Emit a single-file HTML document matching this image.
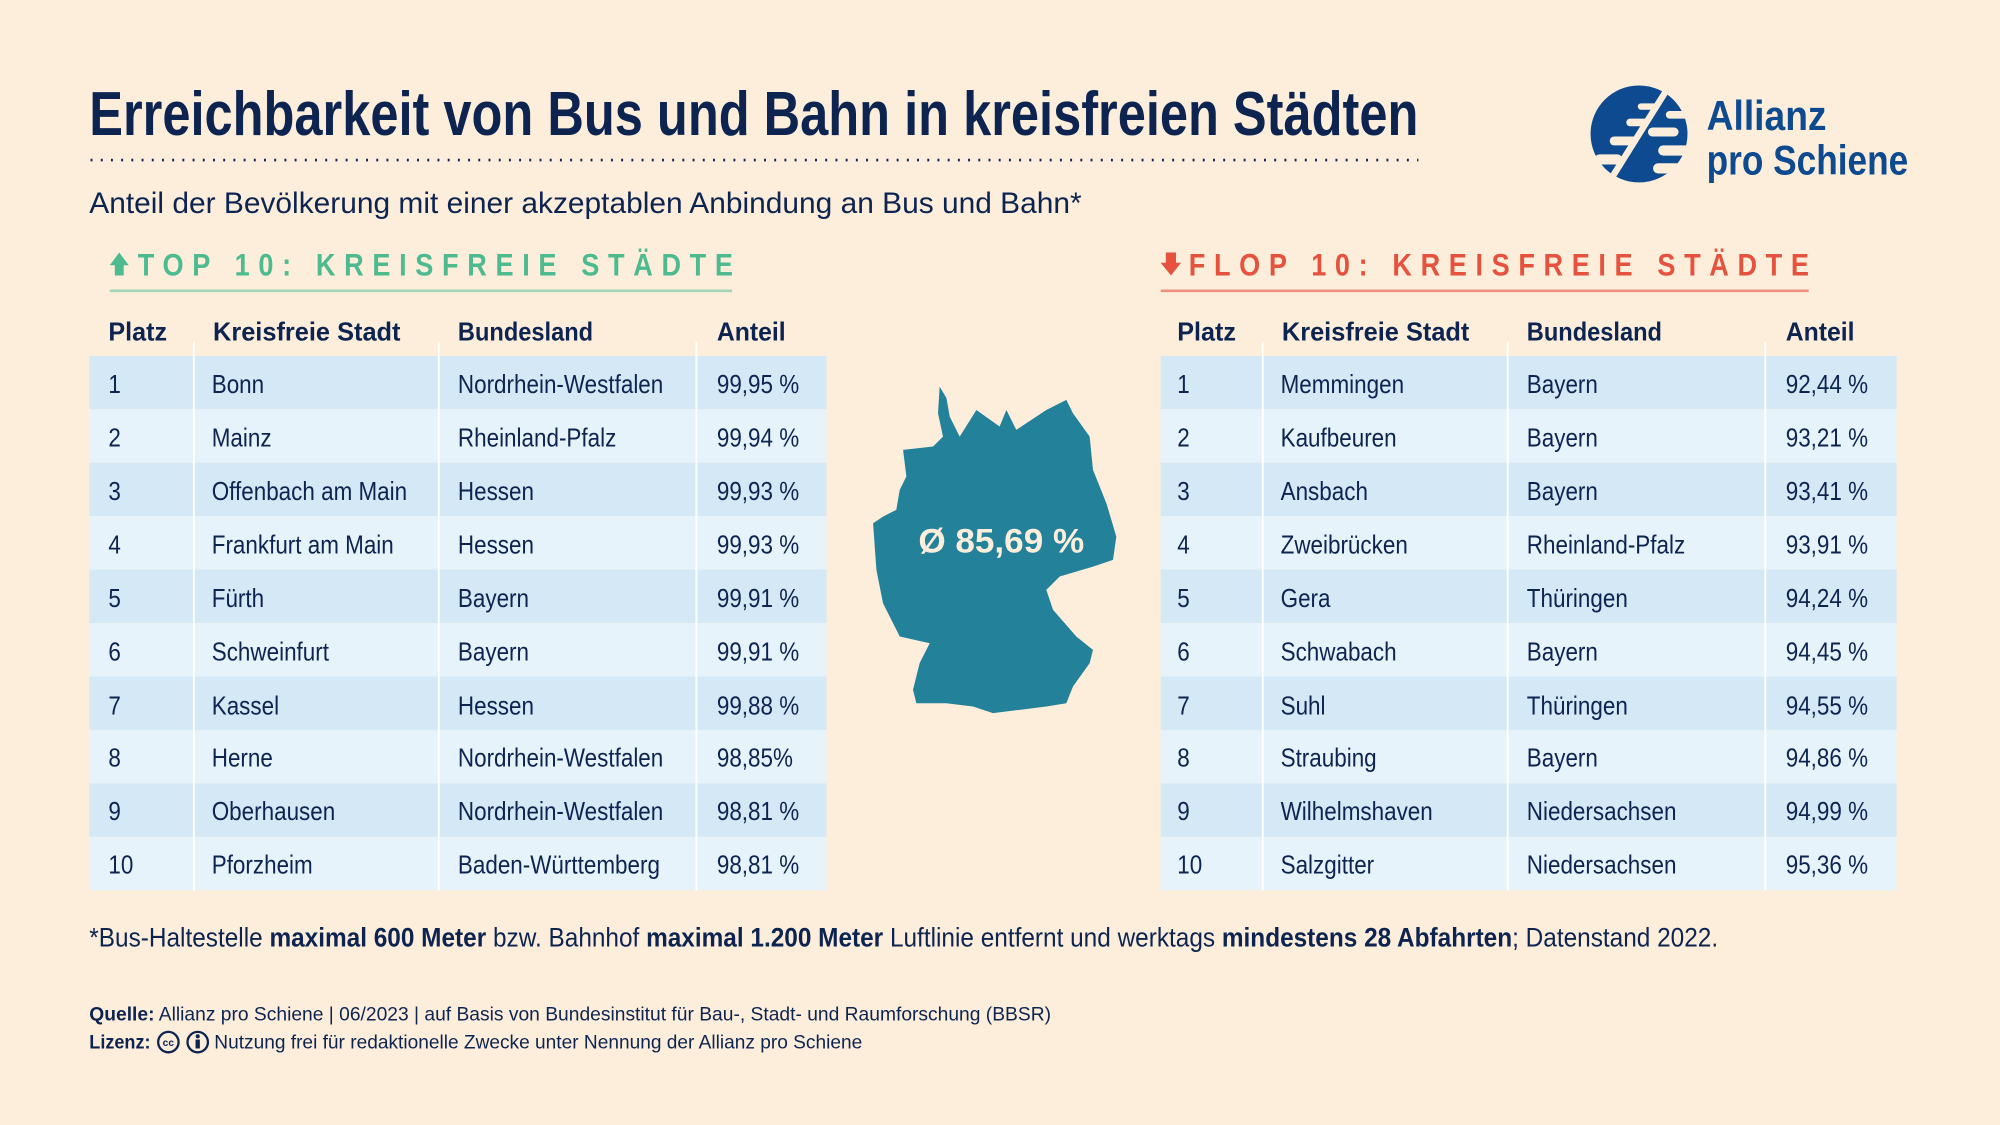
<!DOCTYPE html>
<html><head><meta charset="utf-8"><style>
html,body{margin:0;padding:0;background:#fdeedb;}
svg{display:block}
text{font-family:"Liberation Sans",Arial,sans-serif;}
</style></head><body>
<svg width="2000" height="1125" viewBox="0 0 1568 882" xmlns="http://www.w3.org/2000/svg">
<rect width="1568" height="882" fill="#fdeedb"/>
<text x="70" y="106" font-size="49" font-weight="bold" fill="#0d2451" textLength="1042" lengthAdjust="spacingAndGlyphs">Erreichbarkeit von Bus und Bahn in kreisfreien Städten</text>
<line x1="71" y1="125.5" x2="1112" y2="125.5" stroke="#0d2451" stroke-width="2" stroke-dasharray="1.5 6.5"/>
<text x="70" y="167" font-size="23" fill="#0d2451" textLength="778" lengthAdjust="spacingAndGlyphs">Anteil der Bevölkerung mit einer akzeptablen Anbindung an Bus und Bahn*</text>

<!-- logo -->
<circle cx="1285" cy="105" r="38" fill="#0d4a8f"/>
<g fill="#fdeedb">
<rect x="1306" y="87" width="20" height="6" rx="3"/>
<rect x="1292" y="100" width="24" height="7" rx="3.5"/>
<rect x="1300" y="114" width="30" height="8" rx="4"/>
<rect x="1296" y="128" width="28" height="8" rx="4"/>
<rect x="1284" y="81" width="16" height="5" rx="2.5"/>
<rect x="1275" y="93" width="18" height="6" rx="3"/>
<rect x="1262" y="107" width="22" height="7" rx="3.5"/>
<rect x="1250" y="121" width="22" height="8" rx="4"/>
</g>
<line x1="1307" y1="70" x2="1262" y2="142" stroke="#fdeedb" stroke-width="5"/>
<text x="1338" y="102" font-size="33" font-weight="bold" fill="#0d4a8f" textLength="94" lengthAdjust="spacingAndGlyphs">Allianz</text>
<text x="1338" y="137" font-size="33" font-weight="bold" fill="#0d4a8f" textLength="158" lengthAdjust="spacingAndGlyphs">pro Schiene</text>

<!-- headings -->
<path d="M93.5,198 L101,208 L97,208 L97,216 L90,216 L90,208 L86,208 Z" fill="#4dbb8f"/>
<g transform="translate(108,216) scale(0.85,1)">
<text x="0" y="0" font-size="25" font-weight="bold" fill="#4dbb8f" textLength="549" lengthAdjust="spacing">TOP 10: KREISFREIE STÄDTE</text>
</g>
<line x1="86" y1="228" x2="574" y2="228" stroke="#a3d6b9" stroke-width="2"/>
<path d="M918,216 L926,206 L922,206 L922,198 L914,198 L914,206 L910,206 Z" fill="#e5533f"/>
<g transform="translate(932,216) scale(0.85,1)">
<text x="0" y="0" font-size="25" font-weight="bold" fill="#e5533f" textLength="572" lengthAdjust="spacing">FLOP 10: KREISFREIE STÄDTE</text>
</g>
<line x1="910" y1="228" x2="1418" y2="228" stroke="#f0917f" stroke-width="2"/>

<!-- left table -->
<g>
<rect x="70" y="279" width="578" height="41.9" fill="#d5e8f6"/>
<rect x="70" y="320.9" width="578" height="41.9" fill="#e6f3fb"/>
<rect x="70" y="362.8" width="578" height="41.9" fill="#d5e8f6"/>
<rect x="70" y="404.7" width="578" height="41.9" fill="#e6f3fb"/>
<rect x="70" y="446.6" width="578" height="41.9" fill="#d5e8f6"/>
<rect x="70" y="488.5" width="578" height="41.9" fill="#e6f3fb"/>
<rect x="70" y="530.4" width="578" height="41.9" fill="#d5e8f6"/>
<rect x="70" y="572.3" width="578" height="41.9" fill="#e6f3fb"/>
<rect x="70" y="614.2" width="578" height="41.9" fill="#d5e8f6"/>
<rect x="70" y="656.1" width="578" height="41.9" fill="#e6f3fb"/>
</g>
<g stroke="#ffffff" stroke-width="1.5"><line x1="152" y1="268" x2="152" y2="698"/><line x1="344" y1="268" x2="344" y2="698"/><line x1="546" y1="268" x2="546" y2="698"/></g>
<g>
<rect x="910" y="279" width="577" height="41.9" fill="#d5e8f6"/>
<rect x="910" y="320.9" width="577" height="41.9" fill="#e6f3fb"/>
<rect x="910" y="362.8" width="577" height="41.9" fill="#d5e8f6"/>
<rect x="910" y="404.7" width="577" height="41.9" fill="#e6f3fb"/>
<rect x="910" y="446.6" width="577" height="41.9" fill="#d5e8f6"/>
<rect x="910" y="488.5" width="577" height="41.9" fill="#e6f3fb"/>
<rect x="910" y="530.4" width="577" height="41.9" fill="#d5e8f6"/>
<rect x="910" y="572.3" width="577" height="41.9" fill="#e6f3fb"/>
<rect x="910" y="614.2" width="577" height="41.9" fill="#d5e8f6"/>
<rect x="910" y="656.1" width="577" height="41.9" fill="#e6f3fb"/>
</g>
<g stroke="#ffffff" stroke-width="1.5"><line x1="990" y1="268" x2="990" y2="698"/><line x1="1182" y1="268" x2="1182" y2="698"/><line x1="1384" y1="268" x2="1384" y2="698"/></g>

<!-- headers -->
<g font-size="20" font-weight="bold" fill="#0d2451">
<text x="85" y="267" textLength="46" lengthAdjust="spacingAndGlyphs">Platz</text>
<text x="167" y="267" textLength="147" lengthAdjust="spacingAndGlyphs">Kreisfreie Stadt</text>
<text x="359" y="267" textLength="106" lengthAdjust="spacingAndGlyphs">Bundesland</text>
<text x="562" y="267" textLength="54" lengthAdjust="spacingAndGlyphs">Anteil</text>
<text x="923" y="267" textLength="46" lengthAdjust="spacingAndGlyphs">Platz</text>
<text x="1005" y="267" textLength="147" lengthAdjust="spacingAndGlyphs">Kreisfreie Stadt</text>
<text x="1197" y="267" textLength="106" lengthAdjust="spacingAndGlyphs">Bundesland</text>
<text x="1400" y="267" textLength="54" lengthAdjust="spacingAndGlyphs">Anteil</text>
</g>

<g font-size="20" fill="#0d2451">
<g transform="translate(85,0) scale(0.88,1)">
<text y="308">1</text><text y="350">2</text><text y="392">3</text><text y="434">4</text><text y="476">5</text><text y="518">6</text><text y="560">7</text><text y="601">8</text><text y="643">9</text><text y="685">10</text>
</g>
<g transform="translate(166,0) scale(0.88,1)">
<text y="308">Bonn</text><text y="350">Mainz</text><text y="392">Offenbach am Main</text><text y="434">Frankfurt am Main</text><text y="476">Fürth</text><text y="518">Schweinfurt</text><text y="560">Kassel</text><text y="601">Herne</text><text y="643">Oberhausen</text><text y="685">Pforzheim</text>
</g>
<g transform="translate(359,0) scale(0.88,1)">
<text y="308">Nordrhein-Westfalen</text><text y="350">Rheinland-Pfalz</text><text y="392">Hessen</text><text y="434">Hessen</text><text y="476">Bayern</text><text y="518">Bayern</text><text y="560">Hessen</text><text y="601">Nordrhein-Westfalen</text><text y="643">Nordrhein-Westfalen</text><text y="685">Baden-Württemberg</text>
</g>
<g transform="translate(562,0) scale(0.88,1)">
<text y="308">99,95 %</text><text y="350">99,94 %</text><text y="392">99,93 %</text><text y="434">99,93 %</text><text y="476">99,91 %</text><text y="518">99,91 %</text><text y="560">99,88 %</text><text y="601">98,85%</text><text y="643">98,81 %</text><text y="685">98,81 %</text>
</g>
<g transform="translate(923,0) scale(0.88,1)">
<text y="308">1</text><text y="350">2</text><text y="392">3</text><text y="434">4</text><text y="476">5</text><text y="518">6</text><text y="560">7</text><text y="601">8</text><text y="643">9</text><text y="685">10</text>
</g>
<g transform="translate(1004,0) scale(0.88,1)">
<text y="308">Memmingen</text><text y="350">Kaufbeuren</text><text y="392">Ansbach</text><text y="434">Zweibrücken</text><text y="476">Gera</text><text y="518">Schwabach</text><text y="560">Suhl</text><text y="601">Straubing</text><text y="643">Wilhelmshaven</text><text y="685">Salzgitter</text>
</g>
<g transform="translate(1197,0) scale(0.88,1)">
<text y="308">Bayern</text><text y="350">Bayern</text><text y="392">Bayern</text><text y="434">Rheinland-Pfalz</text><text y="476">Thüringen</text><text y="518">Bayern</text><text y="560">Thüringen</text><text y="601">Bayern</text><text y="643">Niedersachsen</text><text y="685">Niedersachsen</text>
</g>
<g transform="translate(1400,0) scale(0.88,1)">
<text y="308">92,44 %</text><text y="350">93,21 %</text><text y="392">93,41 %</text><text y="434">93,91 %</text><text y="476">94,24 %</text><text y="518">94,45 %</text><text y="560">94,55 %</text><text y="601">94,86 %</text><text y="643">94,99 %</text><text y="685">95,36 %</text>
</g>
</g>

<!-- map -->
<path fill="#23819a" d="M736.7,303.1 L742,312 L744.6,326.6 L752.4,342.3 L765.5,321.4 L783.7,334.4 L789,321.4 L796.8,337 L820.3,321.4 L836,313.5 L841.2,324 L854.3,342.3 L856.9,368.4 L867.4,394.5 L875.2,420.7 L872.6,438.9 L856.9,444.2 L830.8,452 L820.3,462.5 L825.6,478.1 L843.8,499 L856.9,509.5 L854.3,519.9 L841.2,538.2 L836,551.3 L820.3,553.9 L799.4,556.5 L778.5,559.1 L762.8,553.9 L741.9,551.3 L718.4,551.3 L715.8,540.8 L721,519.9 L728.9,504.3 L705.4,499 L692.3,472.9 L687.1,446.8 L684.5,410.2 L692.3,405 L702.7,399.7 L705.4,384.1 L710.6,373.6 L708,352.7 L731.5,350.1 L739.3,342.3 L735.4,324 Z"/>
<text x="785" y="433" font-size="27" font-weight="bold" fill="#fdeedb" text-anchor="middle" textLength="130" lengthAdjust="spacingAndGlyphs">Ø 85,69 %</text>

<!-- footnote -->
<text x="70" y="742" font-size="21" fill="#0d2451" textLength="1277" lengthAdjust="spacingAndGlyphs">*Bus-Haltestelle <tspan font-weight="bold">maximal 600 Meter</tspan> bzw. Bahnhof <tspan font-weight="bold">maximal 1.200 Meter</tspan> Luftlinie entfernt und werktags <tspan font-weight="bold">mindestens 28 Abfahrten</tspan>; Datenstand 2022.</text>

<text x="70" y="800" font-size="15.5" fill="#0d2451" textLength="754" lengthAdjust="spacingAndGlyphs"><tspan font-weight="bold">Quelle:</tspan> Allianz pro Schiene | 06/2023 | auf Basis von Bundesinstitut für Bau-, Stadt- und Raumforschung (BBSR)</text>
<text x="70" y="822" font-size="15.5" font-weight="bold" fill="#0d2451" textLength="48" lengthAdjust="spacingAndGlyphs">Lizenz:</text>
<circle cx="132" cy="817" r="8" fill="none" stroke="#0d2451" stroke-width="1.8"/>
<text x="132" y="820" font-size="8" font-weight="bold" fill="#0d2451" text-anchor="middle">cc</text>
<circle cx="155" cy="817" r="8" fill="none" stroke="#0d2451" stroke-width="1.8"/>
<circle cx="155" cy="812.5" r="1.6" fill="#0d2451"/>
<rect x="153.3" y="815" width="3.4" height="7" fill="#0d2451"/>
<text x="168" y="822" font-size="15.5" fill="#0d2451" textLength="508" lengthAdjust="spacingAndGlyphs">Nutzung frei für redaktionelle Zwecke unter Nennung der Allianz pro Schiene</text>
</svg>
</body></html>
